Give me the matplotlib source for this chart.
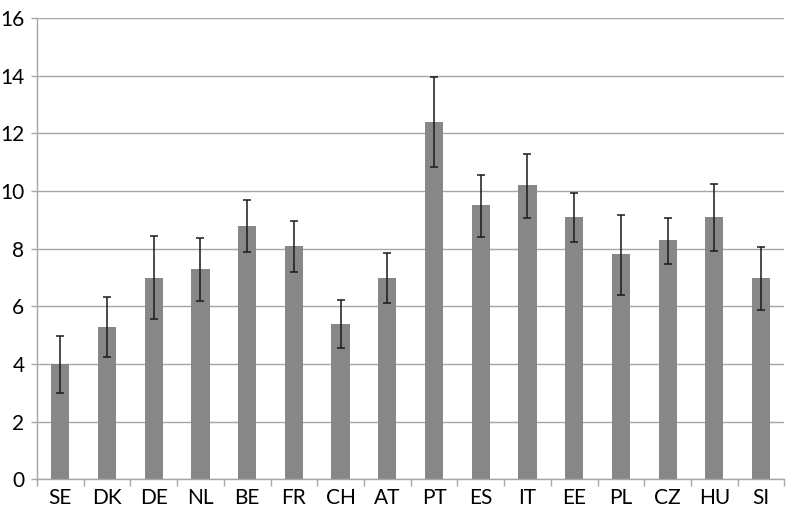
import numpy as np
import matplotlib.pyplot as plt

# --- Data ---
countries = ['SE', 'DK', 'DE', 'NL', 'BE', 'FR', 'CH', 'AT',
             'PT', 'ES', 'IT', 'EE', 'PL', 'CZ', 'HU', 'SI']
values = [4.0, 5.3, 7.0, 7.3, 8.8, 8.1, 5.4, 7.0,
          12.4, 9.5, 10.2, 9.1, 7.8, 8.3, 9.1, 7.0]
err_low = [2.98, 4.23, 5.55, 6.19, 7.88, 7.2, 4.57, 6.11,
           10.82, 8.42, 9.08, 8.25, 6.41, 7.47, 7.92, 5.88]
err_high = [4.98, 6.34, 8.43, 8.37, 9.7, 8.95, 6.23, 7.85,
            13.94, 10.55, 11.27, 9.92, 9.17, 9.08, 10.26, 8.07]

values = np.array(values)
yerr = [values - np.array(err_low), np.array(err_high) - values]
x = np.arange(len(countries))

plt.rcParams['font.family'] = ['Lato', 'DejaVu Sans']

fig = plt.figure(figsize=(7.86, 5.16), dpi=100)
ax = fig.add_axes([0.047, 0.071, 0.951, 0.894])

grid_c = '#a6a6a6'
ax.bar(x, values, width=0.39, color='#878787', zorder=2)
ax.errorbar(x, values, yerr=yerr, fmt='none', ecolor='#1a1a1a',
            elinewidth=1.1, capsize=2.9, capthick=1.1, zorder=3)

ax.set_xlim(-0.5, len(countries) - 0.5)
ax.set_ylim(0, 16)
ax.set_yticks(np.arange(0, 17, 2))
ax.yaxis.grid(True, color=grid_c, linewidth=1.0, zorder=0)

# category labels centred, ticks on the category boundaries
ax.set_xticks(x)
ax.set_xticklabels(countries)
ax.set_xticks(np.arange(-0.5, len(countries), 1), minor=True)
ax.tick_params(axis='x', which='major', length=0, pad=6, labelsize=15)
ax.tick_params(axis='x', which='minor', length=5, color=grid_c, width=1)
ax.tick_params(axis='y', length=4, color=grid_c, width=1, pad=5, labelsize=15)

for side in ['top', 'right']:
    ax.spines[side].set_visible(False)
for side in ['left', 'bottom']:
    ax.spines[side].set_color(grid_c)
    ax.spines[side].set_linewidth(1.0)

fig.savefig('out.png', dpi=100)
